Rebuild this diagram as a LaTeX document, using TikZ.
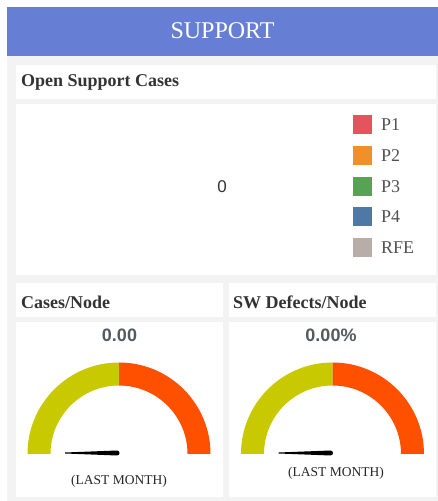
\documentclass[tikz,border=0pt]{standalone}
\usepackage{fontspec}
\setmainfont{Liberation Serif}
\newfontfamily\sansf{Liberation Sans}
\definecolor{hdrblue}{HTML}{667FD5}
\definecolor{panelgray}{HTML}{F3F3F3}
\definecolor{txtdark}{HTML}{333333}
\definecolor{cP1}{HTML}{E3545E}
\definecolor{cP2}{HTML}{F0902A}
\definecolor{cP3}{HTML}{57A354}
\definecolor{cP4}{HTML}{4E78A6}
\definecolor{cRFE}{HTML}{B8ADA8}
\definecolor{gyellow}{HTML}{C9C900}
\definecolor{gred}{HTML}{FF5000}
\definecolor{valgray}{HTML}{555A60}
\begin{document}
\begin{tikzpicture}[x=1pt,y=1pt,
  boxtitle/.style={anchor=west,inner sep=0pt,text=txtdark,font=\fontsize{18}{20}\selectfont\bfseries},
  legbox/.style={fill=#1,minimum size=19pt,inner sep=0pt,draw=none},
  leglabel/.style={anchor=west,inner sep=0pt,text=txtdark!85,font=\fontsize{18}{20}\selectfont},
  valtext/.style={inner sep=0pt,text=valgray,font=\sansf\bfseries\fontsize{18}{20}\selectfont},
  lastmonth/.style={inner sep=0pt,text=black!85,font=\fontsize{13.5}{15}\selectfont}]
\useasboundingbox (0,0) rectangle (438,501);
\fill[white] (0,0) rectangle (438,501);
% panel and header
\fill[panelgray] (7,0) rectangle (438,445);
\fill[hdrblue] (7,445) rectangle (438,494);
\node[inner sep=0pt,text=white,font=\fontsize{24}{28}\selectfont] (title) at (222.5,470) {SUPPORT};
% white boxes
\fill[white] (16,402) rectangle (436,436);
\fill[white] (16,226) rectangle (436,397);
\fill[white] (16,184) rectangle (223,218);
\fill[white] (229,184) rectangle (436,218);
\fill[white] (16,4) rectangle (223,179);
\fill[white] (229,4) rectangle (436,179);
% open support cases
\node[boxtitle] (osc) at (21,419) {Open Support Cases};
\node[inner sep=0pt,text=txtdark,font=\sansf\fontsize{17}{20}\selectfont] (zero) at (222,314) {0};
\node[legbox=cP1] (l1) at (362.5,376) {};
\node[legbox=cP2] (l2) at (362.5,345) {};
\node[legbox=cP3] (l3) at (362.5,314) {};
\node[legbox=cP4] (l4) at (362.5,284) {};
\node[legbox=cRFE] (l5) at (362.5,253) {};
\node[leglabel] (t1) at (381,376) {P1};
\node[leglabel] (t2) at (381,345) {P2};
\node[leglabel] (t3) at (381,314) {P3};
\node[leglabel] (t4) at (381,284) {P4};
\node[leglabel] (t5) at (381,253) {RFE};
% lower titles
\node[boxtitle] (cn) at (21,199) {Cases/Node};
\node[boxtitle] (sw) at (233,199) {SW Defects/Node};
\node[valtext] (v1) at (119.5,166) {0.00};
\node[valtext] (v2) at (331,166) {0.00\%};
% gauges
\foreach \cx/\nm in {119/ga,332.5/gb}{
  \coordinate (\nm) at (\cx,47);
  \fill[gyellow] (\nm) ++(-91.5,0) arc (180:90:91.5) -- ++(0,-23) arc (90:180:68.5) -- cycle;
  \fill[gred] (\nm) ++(91.5,0) arc (0:90:91.5) -- ++(0,-23) arc (90:0:68.5) -- cycle;
  \fill[black] (\nm) ++(-54,1.5) -- ++(52,2) arc (90:-90:2.5) -- ++(-52,2) -- cycle;
}
\node[lastmonth] (lm1) at (119,20) {(LAST MONTH)};
\node[lastmonth] (lm2) at (336,28) {(LAST MONTH)};
\end{tikzpicture}
\end{document}
